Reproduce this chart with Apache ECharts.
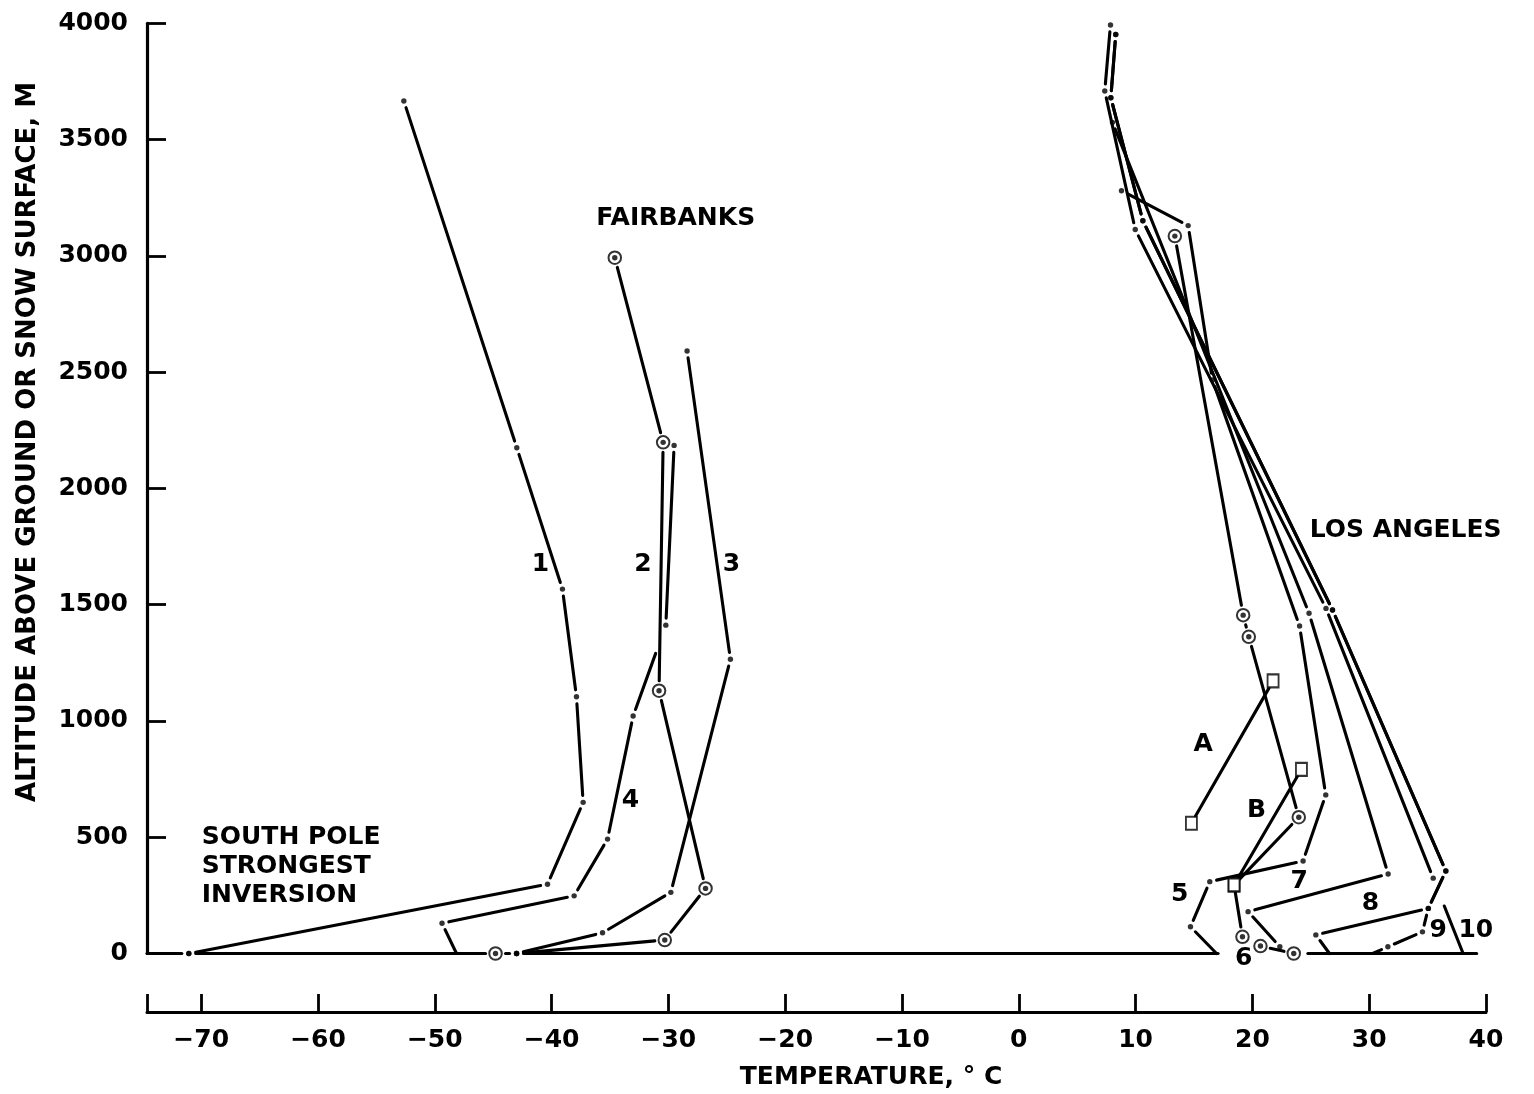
<!DOCTYPE html>
<html><head><meta charset="utf-8">
<script src="https://cdn.jsdelivr.net/npm/echarts@6/dist/echarts.min.js"></script>
<style>html,body{margin:0;padding:0;background:#fff}#c{width:1534px;height:1094px}</style>
</head><body><div id="c"></div>
<script>
// ---- tick labels ----
const xTickValues = [-70, -60, -50, -40, -30, -20, -10, 0, 10, 20, 30, 40];
const yTickValues = [0, 500, 1000, 1500, 2000, 2500, 3000, 3500, 4000];

// ---- profiles: [temperature °C, altitude m, vertex mark] ----
// marks: d = vertex dot, x = vertex dot with crossing break, o = ringed point, s = square, n = plain end
const groundLeft = [[-74.64, 0, 'n'], [-71.06, 0, 'd'], [-44.8, 0, 'o'], [-43.0, 0, 'd'], [17.06, 0, 'n']];
const groundRight = [[24.75, 0, 'n'], [39.2, 0, 'n']];

const curve1 = [[-52.65, 3666, 'd'], [-42.98, 2175, 'd'], [-39.07, 1567, 'd'], [-37.87, 1104, 'd'], [-37.30, 650, 'd'], [-40.35, 298, 'd'], [-71.06, 0, 'd']];
const curve2 = [[-34.59, 2992, 'o'], [-30.45, 2198, 'o'], [-30.80, 1130, 'o'], [-26.82, 280, 'o'], [-30.31, 58, 'o'], [-43.0, 0, 'd']];
const curve3 = [[-28.40, 2591, 'd'], [-24.69, 1265, 'd'], [-29.79, 263, 'd'], [-35.64, 89, 'd'], [-43.0, 0, 'd']];
const curve4 = [[-29.51, 2185, 'd'], [-30.22, 1412, 'x'], [-33.02, 1021, 'd'], [-35.21, 492, 'd'], [-38.07, 248, 'd'], [-49.38, 130, 'd'], [-48.14, 0, 'n']];

const laA = [[14.78, 560, 's'], [21.77, 1172, 's']];
const laB = [[24.20, 792, 's'], [18.43, 295, 's']];
const la5 = [[8.79, 3280, 'd'], [14.5, 3130, 'd'], [16.58, 2466, 'd'], [24.04, 1408, 'd'], [26.28, 682, 'd'], [24.34, 398, 'd'], [16.35, 309, 'd'], [14.70, 115, 'd'], [16.93, 0, 'n']];
const la6 = [[13.36, 3085, 'o'], [19.21, 1455, 'o'], [19.69, 1362, 'o'], [23.97, 586, 'o'], [18.43, 295, 's'], [19.15, 72, 'o'], [20.69, 32, 'o'], [23.54, 0, 'o']];
const la7 = [[8.02, 3574, 'd'], [24.85, 1463, 'd'], [31.62, 342, 'd'], [19.63, 180, 'd'], [22.35, 29, 'd']];
const la8 = [[8.30, 3952, 'd'], [7.88, 3680, 'd'], [10.62, 3151, 'd'], [26.86, 1477, 'd'], [36.56, 355, 'd'], [35.06, 194, 'd'], [25.43, 80, 'd'], [26.6, 0, 'n']];
const la9 = [[8.30, 3952, 'd'], [7.88, 3680, 'd'], [10.62, 3151, 'd'], [26.86, 1477, 'd'], [36.56, 355, 'd'], [35.06, 194, 'd'], [34.56, 93, 'd'], [31.6, 29, 'd'], [30.3, 0, 'n']];
const la10 = [[7.85, 3993, 'd'], [7.36, 3709, 'd'], [9.97, 3113, 'd'], [26.3, 1484, 'd'], [35.48, 324, 'x'], [38.04, 0, 'n']];

// ---- annotation texts at data positions ----
const annotations = [
  ['1', -40.96, 1671], ['2', -32.17, 1671], ['3', -24.6, 1671], ['4', -33.25, 656],
  ['FAIRBANKS', -29.37, 3159],
  ['A', 15.78, 897], ['B', 20.35, 617], ['5', 13.78, 252], ['6', 19.26, -20],
  ['7', 24.0, 309], ['8', 30.11, 216], ['9', 35.9, 101], ['10', 39.13, 101]
];
const leftAnnotations = [
  ['SOUTH POLE\nSTRONGEST\nINVERSION', -69.95, 372],
  ['LOS ANGELES', 24.9, 1821]
];

const profiles = [groundLeft, groundRight, curve1, curve2, curve3, curve4, laA, laB, la5, la6, la7, la8, la9, la10];

const GAP_IN = { d: 7, x: 7, o: 10, s: 8, n: 0 };
const GAP_OUT = { d: 7, x: 30, o: 10, s: 8, n: 0 };

const segments = [];
const dots = [], rings = [], squares = [];
profiles.forEach(p => {
  for (let i = 0; i < p.length - 1; i++) {
    segments.push([p[i][0], p[i][1], p[i + 1][0], p[i + 1][1], GAP_OUT[p[i][2]], GAP_IN[p[i + 1][2]]]);
  }
  p.forEach(pt => {
    const m = pt[2];
    if (m === 'd' || m === 'x' || m === 'o') dots.push([pt[0], pt[1]]);
    if (m === 'o') rings.push([pt[0], pt[1]]);
    if (m === 's') squares.push([pt[0], pt[1]]);
  });
});

const FONT = 'DejaVu Sans';
const chart = echarts.init(document.getElementById('c'), null, { renderer: 'canvas' });
chart.setOption({
  animation: false,
  backgroundColor: '#fff',
  grid: { left: 147, right: 48, top: 23.3, bottom: 140.5 },
  xAxis: {
    type: 'value', min: -74.64, max: 40, offset: 58.5,
    axisLine: { show: true, onZero: false, lineStyle: { color: '#000', width: 3 } },
    axisTick: { show: true, inside: true, length: 18, lineStyle: { color: '#000', width: 2.8 }, customValues: [-74.64].concat(xTickValues) },
    axisLabel: { customValues: xTickValues, margin: 16, color: '#000', fontFamily: FONT, fontWeight: 'bold', fontSize: 25,
      formatter: v => (v < 0 ? '\u2212' + Math.abs(v) : String(v)) },
    splitLine: { show: false }
  },
  yAxis: {
    type: 'value', min: 0, max: 4000,
    axisLine: { show: true, onZero: false, lineStyle: { color: '#000', width: 3.2 } },
    axisTick: { show: true, inside: true, length: 19, lineStyle: { color: '#000', width: 2.8 }, customValues: yTickValues },
    axisLabel: { customValues: yTickValues, margin: 19, color: '#000', fontFamily: FONT, fontWeight: 'bold', fontSize: 25,
      formatter: v => String(v) },
    splitLine: { show: false }
  },
  series: [
    {
      type: 'custom', silent: true, clip: false,
      data: segments,
      encode: { x: [0, 2], y: [1, 3] },
      renderItem: function (params, api) {
        const a = api.coord([api.value(0), api.value(1)]);
        const b = api.coord([api.value(2), api.value(3)]);
        const g1 = api.value(4), g2 = api.value(5);
        const dx = b[0] - a[0], dy = b[1] - a[1];
        const L = Math.sqrt(dx * dx + dy * dy);
        if (L <= g1 + g2 + 1) return null;
        const ux = dx / L, uy = dy / L;
        return {
          type: 'line',
          shape: { x1: a[0] + ux * g1, y1: a[1] + uy * g1, x2: b[0] - ux * g2, y2: b[1] - uy * g2 },
          style: { stroke: '#000', lineWidth: 3.1, lineCap: 'round', fill: null }
        };
      }
    },
    {
      type: 'scatter', silent: true, clip: false, data: rings, z: 3,
      symbol: 'emptyCircle', symbolSize: 12.5,
      itemStyle: { color: '#000', borderColor: '#000', borderWidth: 3.8 }
    },
    {
      type: 'scatter', silent: true, clip: false, data: squares, z: 3,
      symbol: 'emptyRect', symbolSize: [11, 13],
      itemStyle: { color: '#000', borderColor: '#000', borderWidth: 2.9 }
    },
    {
      type: 'scatter', silent: true, clip: false, data: dots, z: 4,
      symbol: 'circle', symbolSize: 5.4, itemStyle: { color: '#000' }
    }
  ]
});

// text annotations placed through the chart's own coordinate conversion
const textFont = 'bold 25px "DejaVu Sans"';
const graphics = [
  { type: 'text', x: 28, y: 442, rotation: Math.PI / 2,
    style: { text: 'ALTITUDE ABOVE GROUND OR SNOW SURFACE, M', fill: '#000', font: 'bold 26px "DejaVu Sans"', align: 'center', verticalAlign: 'middle' } },
  { type: 'text', x: 871, y: 1077,
    style: { text: 'TEMPERATURE, \u00B0 C', fill: '#000', font: textFont, align: 'center', verticalAlign: 'middle' } }
];
annotations.forEach(a => {
  const p = chart.convertToPixel({ gridIndex: 0 }, [a[1], a[2]]);
  graphics.push({ type: 'text', x: p[0], y: p[1], silent: true,
    style: { text: a[0], fill: '#000', font: textFont, align: 'center', verticalAlign: 'middle' } });
});
leftAnnotations.forEach(a => {
  const p = chart.convertToPixel({ gridIndex: 0 }, [a[1], a[2]]);
  graphics.push({ type: 'text', x: p[0], y: p[1], silent: true,
    style: { text: a[0], fill: '#000', font: textFont, lineHeight: 29, align: 'left', verticalAlign: 'middle' } });
});
chart.setOption({ graphic: graphics });
</script>
</body></html>
